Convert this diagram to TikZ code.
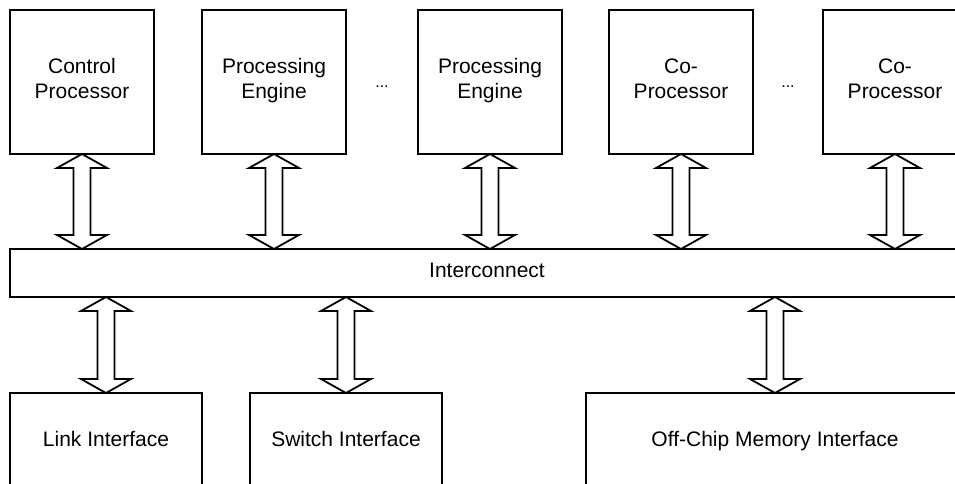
\documentclass[tikz,border=0pt]{standalone}
\usepackage{fontspec}
\setmainfont{Liberation Sans}
\usetikzlibrary{positioning, calc}

\tikzset{
  unit/.style={rectangle, draw, line width=1.8pt, minimum width=144pt,
    minimum height=144pt, align=center, inner sep=0pt, outer sep=0pt,
    text height=34pt, text depth=0pt, font=\fontsize{21}{25}\selectfont},
  iface/.style={unit, minimum height=92pt, minimum width=192pt, text height=14pt},
  gap/.style={inner sep=0pt, anchor=base, yshift=-6pt, font=\fontsize{16}{20}\selectfont},
  bus/.style={draw, line width=1.8pt, fill=white, line join=miter}
}

% hollow two-headed bus arrow between two points stacked vertically
\newcommand{\busarrow}[2]{%
  \path[bus] let \p1=(#1), \p2=(#2) in
    (\x1,\y1) -- ++(25pt,-14pt) -- ++(-16.5pt,0pt) -- (\x1+8.5pt,\y2+14pt)
    -- ++(16.5pt,0pt) -- (\x1,\y2) -- ++(-25pt,14pt) -- ++(16.5pt,0pt)
    -- (\x1-8.5pt,\y1-14pt) -- ++(-16.5pt,0pt) -- cycle;}

\begin{document}
\begin{tikzpicture}[x=1pt, y=-1pt]
  \useasboundingbox (0,0) rectangle (955,484);
  \clip (0,0) rectangle (955,484);

  % processing units
  \node [unit] (ctrl) at (82,82) {Control\\Processor};
  \node [unit, right=48pt of ctrl] (pe1) {Processing\\Engine};
  \node [unit, right=72pt of pe1] (pen) {Processing\\Engine};
  \node [unit, right=47pt of pen] (cop1) {Co-\\Processor};
  \node [unit, right=70pt of cop1] (copn) {Co-\\Processor};
  \node [gap] (dots1) at ($(pe1)!0.5!(pen)$) {...};
  \node [gap] (dots2) at ($(cop1)!0.5!(copn)$) {...};

  % shared interconnect
  \node [unit, minimum width=954pt, minimum height=48pt, text height=8pt] (ic) at (487,273) {Interconnect};

  % interfaces
  \node [iface] (link) at (106,439) {Link Interface};
  \node [iface, right=48pt of link] (switch) {Switch Interface};
  \node [iface, minimum width=378pt] (mem) at (775,439) {Off-Chip Memory Interface};

  \busarrow{ctrl.south}{ctrl.south |- ic.north}
  \busarrow{pe1.south}{pe1.south |- ic.north}
  \busarrow{pen.south}{pen.south |- ic.north}
  \busarrow{cop1.south}{cop1.south |- ic.north}
  \busarrow{copn.south}{copn.south |- ic.north}
  \busarrow{link.north |- ic.south}{link.north}
  \busarrow{switch.north |- ic.south}{switch.north}
  \busarrow{mem.north |- ic.south}{mem.north}
\end{tikzpicture}
\end{document}
